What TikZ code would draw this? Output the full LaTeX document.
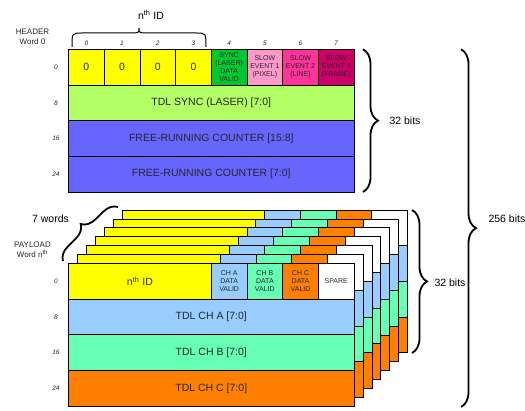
\documentclass[tikz,border=0pt]{standalone}
\usepackage{fontspec}
\setmainfont{Liberation Sans}
\usetikzlibrary{decorations.pathreplacing,positioning}
\definecolor{idyellow}{HTML}{FFFF00}
\definecolor{syncgreen}{HTML}{00C832}
\definecolor{evpink}{HTML}{FF99CC}
\definecolor{evrose}{HTML}{FF3399}
\definecolor{evmagenta}{HTML}{CC0066}
\definecolor{tdlgreen}{HTML}{B3FF66}
\definecolor{countblue}{HTML}{6666FF}
\definecolor{chablue}{HTML}{99CCFF}
\definecolor{chbmint}{HTML}{66FFB3}
\definecolor{chcorange}{HTML}{FF8000}
\tikzset{
  cell/.style={draw=black, line width=0.8pt, anchor=north west, inner sep=0pt,
    outer sep=0pt, minimum height=35.7pt, minimum width=35.7pt, align=center,
    text=black!85},
  small/.style={font=\fontsize{7}{8}\selectfont},
  big/.style={font=\fontsize{10.5}{12}\selectfont},
  bitno/.style={font=\fontsize{6.5}{8}\selectfont\itshape, text=black!85},
  sidelabel/.style={font=\fontsize{8}{10}\selectfont, align=center, text=black!85},
  bracket/.style={decorate, decoration={brace, amplitude=#1}, line width=1.8pt},
}
\begin{document}
\begin{tikzpicture}[x=1pt,y=-1pt]
\useasboundingbox (0,0) rectangle (525,411);
% header word
\foreach \c in {0,...,3}
  \node[cell, fill=idyellow, big] (hid\c) at ({68.5+35.7*\c},49.3) {0};
\node[cell, fill=syncgreen, small] (hsync) at (211.3,49.3) {SYNC\\(LASER)\\DATA\\VALID};
\node[cell, fill=evpink, small] (hev1) at (247,49.3) {SLOW\\EVENT 1\\(PIXEL)};
\node[cell, fill=evrose, small] (hev2) at (282.7,49.3) {SLOW\\EVENT 2\\(LINE)};
\node[cell, fill=evmagenta, small] (hev3) at (318.4,49.3) {SLOW\\EVENT 3\\(FRAME)};
\node[cell, fill=tdlgreen, big, minimum width=285.6pt] (htdl) at (68.5,85) {TDL SYNC (LASER) [7:0]};
\node[cell, fill=countblue, big, minimum width=285.6pt] (hcnthi) at (68.5,120.7) {FREE-RUNNING COUNTER [15:8]};
\node[cell, fill=countblue, big, minimum width=285.6pt] (hcntlo) at (68.5,156.4) {FREE-RUNNING COUNTER [7:0]};
\foreach \c in {0,...,7}
  \node[bitno] (hbit\c) at ({68.5+35.7*(\c+0.5)},43) {\c};
\foreach \r/\v in {0/0,1/8,2/16,3/24}{
  \node[bitno] (hrow\r) at (56,{49.3+35.7*(\r+0.5)}) {\v};
  \node[bitno] (prow\r) at (56,{263.5+35.7*(\r+0.5)}) {\v};}
\node[sidelabel] (hlabel) at (32.5,37) {HEADER\\Word 0};
\node[sidelabel] (plabel) at (32.5,249.5) {PAYLOAD\\Word n\textsuperscript{th}};
% nth ID brace
\coordinate (idl) at (72,47);
\coordinate (idr) at (206,47);
\draw[line width=1pt] (idl) .. controls (72,33) .. (82,33) -- (130,33)
  .. controls (139,33) .. (139,28) .. controls (139,33) .. (148,33) -- (196,33)
  .. controls (206,33) .. (idr);
\node[big] (idtext) at (151,15) {n\textsuperscript{th} ID};
% payload words, back to front
\foreach \k in {6,5,...,1}{
  \pgfmathsetmacro{\px}{68.5+8.9*\k}
  \pgfmathsetmacro{\py}{263.5-8.9*\k}
  \node[cell, fill=idyellow, minimum width=142.8pt] (pid\k) at (\px,\py) {};
  \node[cell, fill=chablue] (pcha\k) at (\px+142.8,\py) {};
  \node[cell, fill=chbmint] (pchb\k) at (\px+178.5,\py) {};
  \node[cell, fill=chcorange] (pchc\k) at (\px+214.2,\py) {};
  \node[cell, fill=white] (psp\k) at (\px+249.9,\py) {};
  \node[cell, fill=chablue, minimum width=285.6pt] (pa\k) at (\px,\py+35.7) {};
  \node[cell, fill=chbmint, minimum width=285.6pt] (pb\k) at (\px,\py+71.4) {};
  \node[cell, fill=chcorange, minimum width=285.6pt] (pc\k) at (\px,\py+107.1) {};
}
\node[cell, fill=idyellow, big, minimum width=142.8pt] (pid0) at (68.5,263.5) {n\textsuperscript{th} ID};
\node[cell, fill=chablue, small] (pcha0) at (211.3,263.5) {CH A\\DATA\\VALID};
\node[cell, fill=chbmint, small] (pchb0) at (247,263.5) {CH B\\DATA\\VALID};
\node[cell, fill=chcorange, small] (pchc0) at (282.7,263.5) {CH C\\DATA\\VALID};
\node[cell, fill=white, small] (psp0) at (318.4,263.5) {SPARE};
\node[cell, fill=chablue, big, minimum width=285.6pt] (pa0) at (68.5,299.2) {TDL CH A [7:0]};
\node[cell, fill=chbmint, big, minimum width=285.6pt] (pb0) at (68.5,334.9) {TDL CH B [7:0]};
\node[cell, fill=chcorange, big, minimum width=285.6pt] (pc0) at (68.5,370.6) {TDL CH C [7:0]};
% braces
\coordinate (wlo) at (63,261);
\coordinate (whi) at (118,207);
\draw[bracket=14pt] (wlo) -- (whi);
\node[big] (wtext) at (50.5,219) {7 words};
\coordinate (htop) at (363,49.3);
\coordinate (hbot) at (363,192);
\draw[bracket=15pt] (htop) -- (hbot);
\node[big, anchor=west] (htext) at (386,121) {32 bits};
\coordinate (ptop) at (412,210);
\coordinate (pbot) at (412,353);
\draw[bracket=15pt] (ptop) -- (pbot);
\node[big, anchor=west] (ptext) at (431,283) {32 bits};
\coordinate (atop) at (461,49.3);
\coordinate (abot) at (461,407);
\draw[bracket=15pt] (atop) -- (abot);
\node[big, anchor=west] (atext) at (485,219) {256 bits};
\end{tikzpicture}
\end{document}
